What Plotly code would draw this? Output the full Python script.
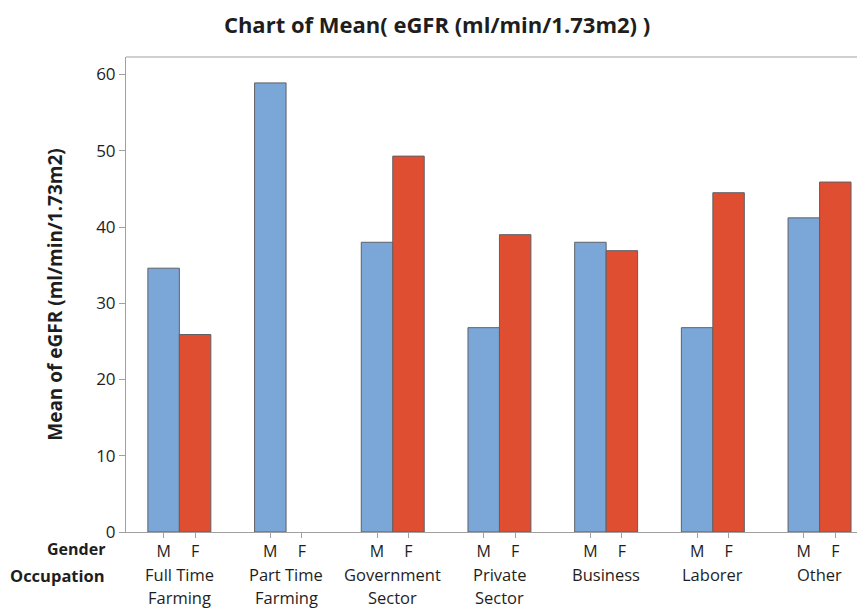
import plotly.graph_objects as go

occupation_line1 = ["Full Time", "Part Time", "Government", "Private", "Business", "Laborer", "Other"]
occupation_line2 = ["Farming", "Farming", "Sector", "Sector", "", "", ""]
genders = ["M", "F"]
mean_m = [34.6, 58.9, 38.0, 26.8, 38.0, 26.8, 41.2]
mean_f = [25.9, None, 49.3, 39.0, 36.9, 44.5, 45.9]
y_ticks = [0, 10, 20, 30, 40, 50, 60]

blue = "#7BA6D8"
red = "#E04E31"
edge = "#5F6066"
txt = "#1e1e1e"
font = "Open Sans, Noto Sans, sans-serif"

bw = 0.295
idx = list(range(len(occupation_line1)))

fig = go.Figure()
fig.add_trace(go.Bar(x=[i - bw / 2 for i in idx], y=mean_m, width=bw, name="M",
                     marker=dict(color=blue, line=dict(color=edge, width=1))))
fig.add_trace(go.Bar(x=[i + bw / 2 for i in idx], y=mean_f, width=bw, name="F",
                     marker=dict(color=red, line=dict(color=edge, width=1))))

tickvals = []
ticktext = []
for i in idx:
    tickvals += [i - bw / 2, i + bw / 2]
    ticktext += genders

annotations = []
for i in idx:
    annotations.append(dict(x=i, y=-0.0895, xref="x", yref="paper", text=occupation_line1[i],
                            showarrow=False, yanchor="middle", xanchor="center",
                            font=dict(size=16.5, color=txt, family=font)))
    if occupation_line2[i]:
        annotations.append(dict(x=i, y=-0.1375, xref="x", yref="paper", text=occupation_line2[i],
                                showarrow=False, yanchor="middle", xanchor="center",
                                font=dict(size=16.5, color=txt, family=font)))
annotations.append(dict(x=-0.026, y=-0.036, xref="x domain", yref="paper", text="<b>Gender</b>",
                        showarrow=False, xanchor="right", yanchor="middle",
                        font=dict(size=16, color=txt, family=font)))
annotations.append(dict(x=-0.026, y=-0.0916, xref="x domain", yref="paper",
                        text="<b>Occupation</b>", showarrow=False, xanchor="right",
                        yanchor="middle", font=dict(size=16.5, color=txt, family=font)))

fig.update_layout(
    width=865, height=608,
    margin=dict(l=118, r=8, t=49, b=84, autoexpand=False),
    paper_bgcolor="white", plot_bgcolor="white",
    showlegend=False,
    title=dict(text="<b>Chart of Mean( eGFR (ml/min/1.73m2) )</b>", x=0.496, xref="container",
               xanchor="center", y=0.972, yref="container", yanchor="middle",
               font=dict(size=22, color=txt, family=font)),
    xaxis=dict(range=[-0.5, 6.426], tickvals=tickvals, ticktext=ticktext,
               ticks="outside", ticklen=5, tickcolor="#a0a0a0", showgrid=False,
               zeroline=False, showline=True, linecolor="#a0a0a0", linewidth=1,
               tickfont=dict(size=16, color=txt, family=font), automargin=False),
    yaxis=dict(range=[0, 62.3], tickvals=y_ticks, ticks="outside", ticklen=6,
               tickcolor="#a0a0a0", showgrid=False, zeroline=False, showline=True,
               linecolor="#a0a0a0", linewidth=1, automargin=False,
               tickfont=dict(size=17, color=txt, family=font),
               title=dict(text="<b>Mean of eGFR (ml/min/1.73m2)</b>", standoff=28,
                          font=dict(size=19, color=txt, family=font))),
    annotations=annotations,
    shapes=[dict(type="line", xref="paper", yref="paper", x0=0, x1=1, y0=1, y1=1,
                 line=dict(color="#a0a0a0", width=1))],
)

fig.write_html("out.html")
